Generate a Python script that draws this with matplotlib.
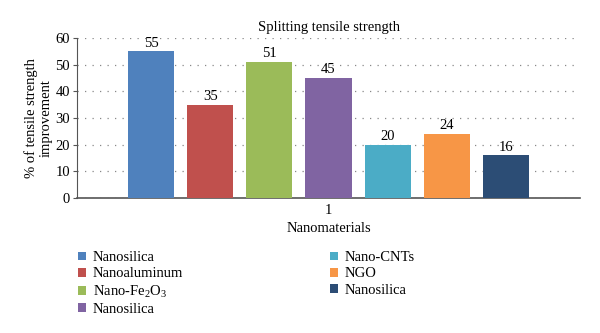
import matplotlib
matplotlib.use("Agg")
import matplotlib.pyplot as plt
from matplotlib.patches import Patch

plt.rcParams['font.family'] = ['Liberation Serif', 'DejaVu Serif']
plt.rcParams['mathtext.fontset'] = 'custom'
plt.rcParams['mathtext.rm'] = 'Liberation Serif'
plt.rcParams['mathtext.it'] = 'Liberation Serif:italic'

labels = ["Nanosilica", "Nanoaluminum", "Nano-Fe$_{\\mathregular{2}}$O$_{\\mathregular{3}}$", "Nanosilica",
          "Nano-CNTs", "NGO", "Nanosilica"]
values = [55, 35, 51, 45, 20, 24, 16]
colors = ["#4F81BD", "#C0504D", "#9BBB59", "#8064A2", "#4BACC6", "#F79646", "#2C4D75"]
yticks = [0, 10, 20, 30, 40, 50, 60]
category = "1"

fig = plt.figure(figsize=(6, 3.33), dpi=100)
ax = fig.add_axes([77/600, 1 - 198/333, (580-77)/600, (198-38)/333])

n = len(values)
width = 0.78
for i, (v, c) in enumerate(zip(values, colors)):
    x = i - (n - 1) / 2
    ax.bar(x, v, width=width, color=c, zorder=3)
    ax.text(x, v + 0.6, str(v), ha='center', va='bottom', fontsize=10.5, zorder=4)

ax.set_xlim(-4.26, 4.26)
ax.set_ylim(0, 60)
ax.set_yticks(yticks)
ax.set_xticks([0])
ax.set_xticklabels([category])
ax.tick_params(axis='y', labelsize=10.5, length=3, color='#555555', pad=2)
ax.tick_params(axis='x', labelsize=10.5, length=0, pad=4)
ax.grid(axis='y', linestyle=(0, (1, 5)), color='#888888', linewidth=0.9, zorder=0)
for s in ['top', 'right']:
    ax.spines[s].set_visible(False)
ax.spines['left'].set_color('#555555')
ax.spines['bottom'].set_color('#555555')
ax.spines['bottom'].set_linewidth(1.2)

ax.set_title("Splitting tensile strength", fontsize=10.5, pad=5)
ax.set_xlabel("Nanomaterials", fontsize=10.5, labelpad=4)
ax.set_ylabel("% of tensile strength\nimprovement", fontsize=10.5, linespacing=1.2, labelpad=2)

handles = [Patch(facecolor=c, edgecolor='none') for c in colors]
fig.legend(handles, labels, ncol=2, loc='upper left', bbox_to_anchor=(65/600, 1 - 238/333),
           frameon=False, fontsize=10.5, handlelength=0.55, handleheight=0.55,
           handletextpad=0.45, labelspacing=0.22, columnspacing=10.1)

fig.savefig("out.png", dpi=100)
